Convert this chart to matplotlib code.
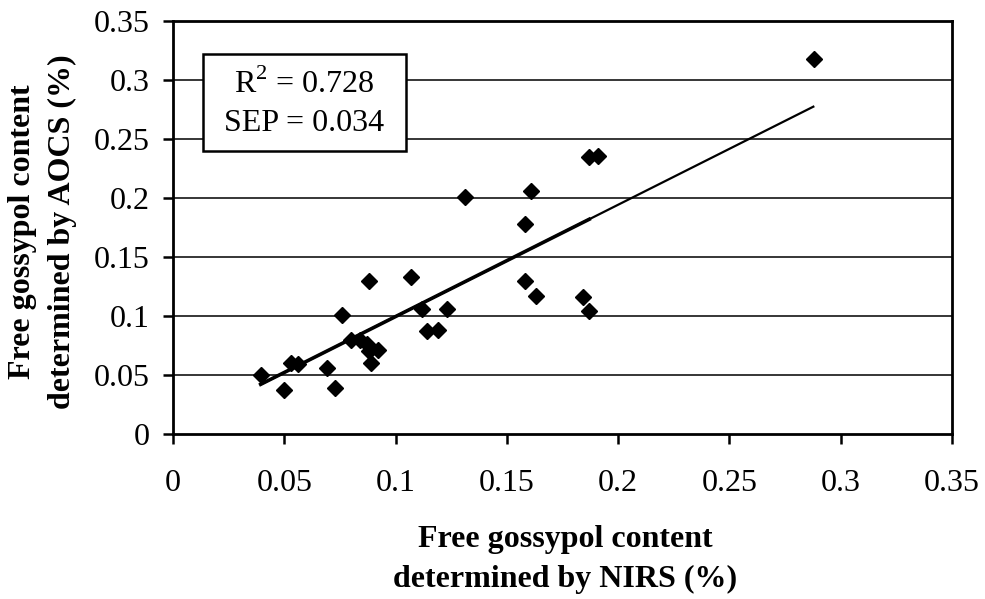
import matplotlib
matplotlib.use("Agg")
import matplotlib.pyplot as plt
from matplotlib.patches import Rectangle

plt.rcParams['font.family'] = ['Liberation Serif', 'DejaVu Serif']
plt.rcParams['mathtext.fontset'] = 'custom'
plt.rcParams['mathtext.rm'] = 'Liberation Serif'

nirs = [0.0394, 0.050, 0.053, 0.056, 0.069, 0.073, 0.076, 0.080, 0.084, 0.087,
        0.088, 0.089, 0.092, 0.088, 0.107, 0.112, 0.114, 0.119, 0.123, 0.131,
        0.158, 0.161, 0.158, 0.163, 0.184, 0.187, 0.187, 0.191, 0.288]
aocs = [0.050, 0.037, 0.060, 0.059, 0.056, 0.039, 0.101, 0.080, 0.080, 0.076,
        0.070, 0.060, 0.071, 0.130, 0.133, 0.106, 0.087, 0.088, 0.106, 0.201,
        0.178, 0.206, 0.130, 0.117, 0.116, 0.104, 0.235, 0.236, 0.318]

fit_x = [0.0394, 0.2877]
fit_y = [0.0421, 0.2774]
fit2_x = [0.0394, 0.187]

xticks = [0, 0.05, 0.1, 0.15, 0.2, 0.25, 0.3, 0.35]
yticks = [0, 0.05, 0.1, 0.15, 0.2, 0.25, 0.3, 0.35]
tick_labels = ['0', '0.05', '0.1', '0.15', '0.2', '0.25', '0.3', '0.35']

W, H = 985, 599
FS = 23

fig = plt.figure(figsize=(W / 100, H / 100), dpi=100)
ax = fig.add_axes([173 / W, 1 - 434 / H, (952 - 173) / W, (434 - 21) / H])

ax.set_xlim(0, 0.35)
ax.set_ylim(0, 0.35)

for yv in yticks[1:-1]:
    ax.axhline(yv, color='black', lw=1.1, zorder=1)

slope = (fit_y[1] - fit_y[0]) / (fit_x[1] - fit_x[0])
ax.plot(fit_x, fit_y, color='black', lw=1.6, zorder=2)
ax.plot(fit2_x, [fit_y[0], fit_y[0] + slope * (fit2_x[1] - fit2_x[0])],
        color='black', lw=2.6, zorder=2)

ax.plot(nirs, aocs, linestyle='none', marker='D', markersize=8,
        color='black', zorder=3)

ax.set_xticks(xticks)
ax.set_yticks(yticks)
ax.set_xticklabels(tick_labels)
ax.set_yticklabels(tick_labels)
ax.tick_params(direction='out', length=7.5, width=1.8, labelsize=FS,
               color='black')
ax.tick_params(axis='x', pad=18)
ax.tick_params(axis='y', pad=9)
for sp in ax.spines.values():
    sp.set_linewidth(2)
    sp.set_color('black')

# statistics box
fig.patches.append(Rectangle((202.7 / W, 1 - 150.7 / H),
                             (405.7 - 202.7) / W, (150.7 - 54.3) / H,
                             transform=fig.transFigure, facecolor='white',
                             edgecolor='black', linewidth=1.8, zorder=5))
fig.text(304 / W, 1 - 93 / H, 'R$^{2}$ = 0.728', ha='center', va='baseline',
         fontsize=FS, zorder=6)
fig.text(304 / W, 1 - 131 / H, 'SEP = 0.034', ha='center', va='baseline',
         fontsize=FS, zorder=6)

fig.text(565 / W, 1 - 540 / H, 'Free gossypol content', ha='center',
         va='center', fontsize=FS, fontweight='bold')
fig.text(565 / W, 1 - 579 / H, 'determined by NIRS (%)', ha='center',
         va='center', fontsize=FS, fontweight='bold')
fig.text(23 / W, 1 - 232 / H, 'Free gossypol content', ha='center',
         va='center', fontsize=FS, fontweight='bold', rotation=90)
fig.text(62 / W, 1 - 232 / H, 'determined by AOCS (%)', ha='center',
         va='center', fontsize=FS, fontweight='bold', rotation=90)

fig.savefig('out.png', dpi=100)
